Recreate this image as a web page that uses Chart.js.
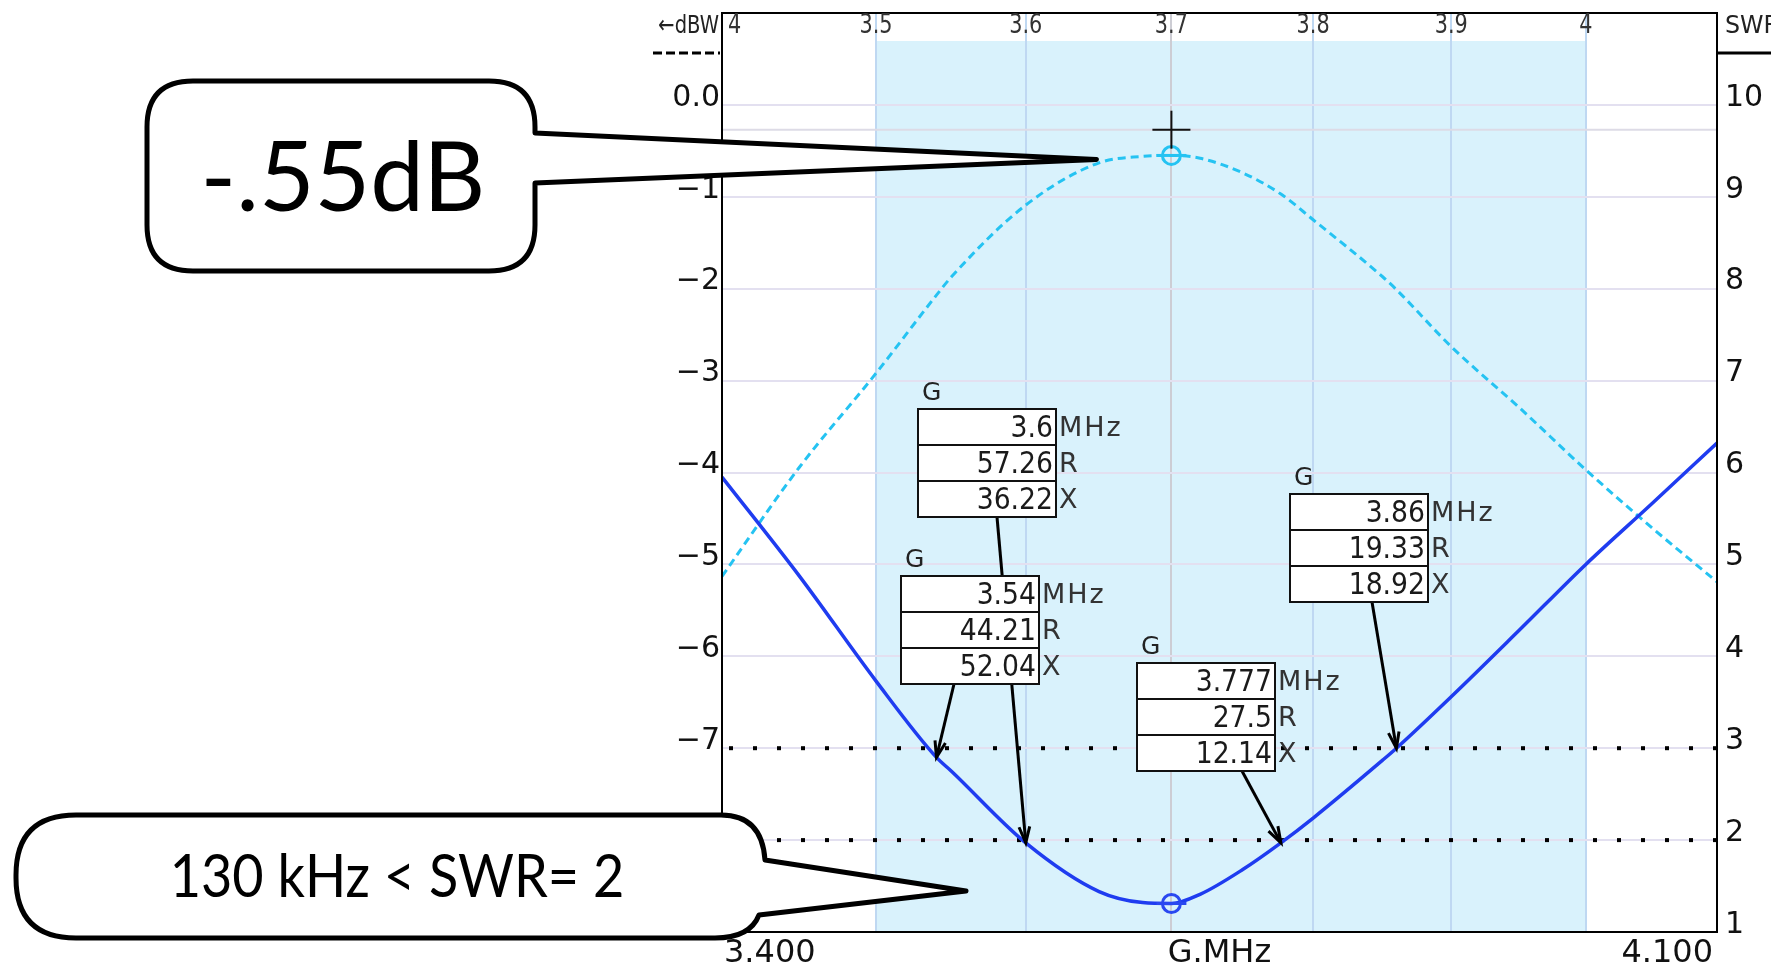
<!DOCTYPE html>
<html>
<head>
<meta charset="utf-8">
<title>SWR / dBW</title>
<script src="https://cdn.jsdelivr.net/npm/chart.js@4.4.1/dist/chart.umd.min.js"></script>
<style>
  html, body { margin: 0; padding: 0; background: #fff; overflow: hidden; }
  canvas { display: block; }
</style>
</head>
<body>
<canvas id="swrChart" width="1771" height="974"></canvas>
<script>
// Частоты, МГц
const freqs = [3.40, 3.45, 3.50, 3.54, 3.55, 3.60, 3.65, 3.68, 3.70, 3.72, 3.75, 3.777, 3.80, 3.85, 3.86, 3.90, 3.95, 4.00, 4.05, 4.10];
// Усиление, dBW (левая шкала)
const dbwValues = [-5.13, -3.94, -2.92, -2.07, -1.87, -1.09, -0.63, -0.56, -0.55, -0.58, -0.74, -0.97, -1.25, -1.87, -2.01, -2.63, -3.29, -3.97, -4.60, -5.19];
// КСВ (правая шкала)
const swrValues = [5.95, 4.87, 3.73, 2.90, 2.75, 1.97, 1.44, 1.32, 1.31, 1.41, 1.68, 1.97, 2.24, 2.87, 3.00, 3.56, 4.28, 5.00, 5.66, 6.32];

// Метки верхней шкалы частот
const topTicks = [3.5, 3.6, 3.7, 3.8, 3.9, 4.0];
// Диапазон, выделенный цветом
const bandStart = 3.5;
const bandEnd = 4.0;
// Уровни КСВ, отмеченные пунктиром
const swrLimits = [2, 3];

// Курсор и маркеры экстремумов
const peakFreq = 3.7;
const peakDbw = -0.55;
const minSwr = 1.31;
const cursorDbw = -0.27;

// Маркеры G: частота, R, X, КСВ в точке
const markerFreqs = [3.6, 3.54, 3.777, 3.86];
const markerR = [57.26, 44.21, 27.5, 19.33];
const markerX = [36.22, 52.04, 12.14, 18.92];
const markerSwr = [1.97, 2.90, 1.97, 3.00];

// Расположение табличек маркеров: левый край, верх, отвод стрелки
const boxLayout = [[918, 409, 79], [901, 576, 53], [1137, 663, 105], [1290, 494, 82]];

const dbwColor = '#25c3f2';
const swrColor = '#1f3cf0';

const dbwData = freqs.map((f, i) => ({ x: f, y: dbwValues[i] }));
const swrData = freqs.map((f, i) => ({ x: f, y: swrValues[i] }));

function line(ctx, x1, y1, x2, y2) {
    ctx.beginPath();
    ctx.moveTo(x1, y1);
    ctx.lineTo(x2, y2);
    ctx.stroke();
}

function arrow(ctx, x1, y1, x2, y2) {
    line(ctx, x1, y1, x2, y2);
    const ang = Math.atan2(y2 - y1, x2 - x1);
    const len = 17, spread = 0.32;
    ctx.beginPath();
    ctx.moveTo(x2 - len * Math.cos(ang - spread), y2 - len * Math.sin(ang - spread));
    ctx.lineTo(x2, y2);
    ctx.lineTo(x2 - len * Math.cos(ang + spread), y2 - len * Math.sin(ang + spread));
    ctx.stroke();
}

// Маркер курсора: кружок с горизонтальной чертой
function cursorMark(ctx, px, py, color) {
    ctx.strokeStyle = color;
    ctx.lineWidth = 3;
    ctx.beginPath();
    ctx.arc(px, py, 9, 0, Math.PI * 2);
    ctx.stroke();
    line(ctx, px - 15, py, px + 15, py);
}

// Сжатый по ширине текст
function narrowText(ctx, text, x, y, k) {
    ctx.save();
    ctx.translate(x, y);
    ctx.scale(k, 1);
    ctx.fillText(text, 0, 0);
    ctx.restore();
}

// Табличка маркера: частота, R, X
function markerBox(ctx, left, top, values) {
    const units = ['MHz', 'R', 'X'];
    const w = 138, h = 36;
    ctx.lineWidth = 2;
    ctx.strokeStyle = '#111';
    ctx.textBaseline = 'middle';
    values.forEach((v, i) => {
        const t = top + i * h;
        ctx.fillStyle = '#fff';
        ctx.fillRect(left, t, w, h);
        ctx.strokeRect(left, t, w, h);
        ctx.fillStyle = '#1a1a1a';
        ctx.textAlign = 'right';
        ctx.font = '31px "DejaVu Sans"';
        narrowText(ctx, v, left + w - 3, t + h / 2 + 2, 0.86);
        ctx.fillStyle = '#333';
        ctx.textAlign = 'left';
        ctx.font = '27px "DejaVu Sans"';
        ctx.letterSpacing = '2px';
        ctx.fillText(units[i], left + w + 3, t + h / 2 + 2);
        ctx.letterSpacing = '0px';
    });
    ctx.fillStyle = '#222';
    ctx.font = '25px "DejaVu Sans"';
    ctx.textAlign = 'left';
    ctx.fillText('G', left + 4, top - 16);
}

// Без отступов под подписи крайних делений: рамка идёт по самому верху
function fixAxis(width) {
    return scale => {
        scale.width = width;
        scale.paddingTop = 0;
        scale.paddingBottom = 0;
    };
}

const overlay = {
    id: 'overlay',
    beforeDraw(chart) {
        const { ctx, chartArea: a, scales: { x } } = chart;
        ctx.save();
        ctx.fillStyle = '#fff';
        ctx.fillRect(0, 0, chart.width, chart.height);
        // Полоса диапазона
        const x1 = x.getPixelForValue(bandStart);
        const x2 = x.getPixelForValue(bandEnd);
        ctx.fillStyle = '#d9f2fc';
        ctx.fillRect(x1, a.top + 28, x2 - x1, a.bottom - a.top - 28);
        ctx.restore();
    },
    beforeDatasetsDraw(chart) {
        const { ctx, chartArea: a, scales: { y, y2 } } = chart;
        ctx.save();
        // Горизонталь курсора
        ctx.strokeStyle = '#dddbe6';
        ctx.lineWidth = 2;
        const cy = y.getPixelForValue(cursorDbw);
        line(ctx, a.left, cy, a.right, cy);
        // Точечные линии КСВ
        ctx.fillStyle = '#000';
        swrLimits.forEach(v => {
            const yy = y2.getPixelForValue(v);
            for (let px = a.right - 2; px > a.left + 8; px -= 24) {
                ctx.fillRect(px - 2, yy - 2, 4, 4);
            }
        });
        ctx.restore();
    },
    afterDatasetsDraw(chart) {
        const { ctx, scales: { x, y, y2 } } = chart;
        ctx.save();
        const px = x.getPixelForValue(peakFreq);
        cursorMark(ctx, px, y.getPixelForValue(peakDbw), dbwColor);
        cursorMark(ctx, px, y2.getPixelForValue(minSwr), '#2a48f0');
        // Перекрестие курсора
        const cy = y.getPixelForValue(cursorDbw);
        ctx.strokeStyle = '#111';
        ctx.lineWidth = 2;
        line(ctx, px - 19, cy, px + 19, cy);
        line(ctx, px, cy - 19, px, cy + 19);
        ctx.restore();
    },
    afterDraw(chart) {
        const { ctx, chartArea: a, scales: { x, y, y2 } } = chart;
        ctx.save();

        // Рамка графика
        ctx.strokeStyle = '#000';
        ctx.lineWidth = 2;
        ctx.strokeRect(a.left, a.top, a.right - a.left, a.bottom - a.top);

        // Верхняя шкала частот
        ctx.font = '26px "DejaVu Sans"';
        ctx.fillStyle = '#333';
        ctx.textBaseline = 'middle';
        ctx.textAlign = 'left';
        narrowText(ctx, '4', a.left + 6, a.top + 13, 0.8);
        ctx.textAlign = 'center';
        topTicks.forEach(v => {
            const label = v === 4 ? '4' : v.toFixed(1);
            narrowText(ctx, label, x.getPixelForValue(v), a.top + 13, 0.8);
        });

        // Подписи нижней шкалы
        ctx.font = '32px "DejaVu Sans"';
        ctx.fillStyle = '#111';
        ctx.textBaseline = 'middle';
        ctx.textAlign = 'left';
        ctx.fillText(x.min.toFixed(3), a.left + 2, a.bottom + 22);
        ctx.textAlign = 'center';
        ctx.fillText('G.MHz', (a.left + a.right) / 2, a.bottom + 22);
        ctx.textAlign = 'right';
        ctx.fillText(x.max.toFixed(3), a.right - 4, a.bottom + 22);

        // Заголовки шкал и образцы линий
        ctx.font = '25px "DejaVu Sans"';
        ctx.fillStyle = '#222';
        ctx.textAlign = 'right';
        narrowText(ctx, '\u2190dBW', a.left - 3, a.top + 13, 0.78);
        ctx.textAlign = 'left';
        narrowText(ctx, 'SWR', a.right + 8, a.top + 13, 0.95);
        ctx.lineWidth = 3;
        ctx.strokeStyle = '#000';
        ctx.setLineDash([9, 4]);
        line(ctx, a.left - 69, a.top + 40, a.left - 2, a.top + 40);
        ctx.setLineDash([]);
        line(ctx, a.right, a.top + 40, chart.width, a.top + 40);

        // Стрелки от табличек к кривой КСВ
        ctx.strokeStyle = '#000';
        ctx.lineWidth = 3;
        markerFreqs.forEach((f, i) => {
            const [left, top, off] = boxLayout[i];
            arrow(ctx, left + off, top + 108, x.getPixelForValue(f), y2.getPixelForValue(markerSwr[i]));
        });
        // Таблички
        markerFreqs.forEach((f, i) => {
            const [left, top] = boxLayout[i];
            markerBox(ctx, left, top, [String(f), String(markerR[i]), String(markerX[i])]);
        });

        // Выноска с максимумом усиления
        const tipX = x.getPixelForValue(peakFreq) - 75;
        const tipY = y.getPixelForValue(peakDbw) + 4;
        ctx.lineWidth = 5;
        ctx.strokeStyle = '#000';
        ctx.fillStyle = '#fff';
        ctx.lineJoin = 'round';
        let L = 147, T = 81, R = 535, B = 271, r = 46;
        ctx.beginPath();
        ctx.moveTo(L + r, T);
        ctx.lineTo(R - r, T);
        ctx.quadraticCurveTo(R, T, R, T + r);
        ctx.lineTo(R, 133);
        ctx.lineTo(tipX, tipY);
        ctx.lineTo(R, 183);
        ctx.lineTo(R, B - r);
        ctx.quadraticCurveTo(R, B, R - r, B);
        ctx.lineTo(L + r, B);
        ctx.quadraticCurveTo(L, B, L, B - r);
        ctx.lineTo(L, T + r);
        ctx.quadraticCurveTo(L, T, L + r, T);
        ctx.closePath();
        ctx.fill();
        ctx.stroke();
        ctx.fillStyle = '#000';
        ctx.font = '96px Lato';
        ctx.textAlign = 'center';
        ctx.textBaseline = 'middle';
        ctx.fillText('-.55dB', (L + R) / 2 + 2, (T + B) / 2 + 4);

        // Выноска с полосой по КСВ
        L = 16; T = 815; B = 938; r = 60;
        ctx.beginPath();
        ctx.moveTo(L + r, T);
        ctx.lineTo(721, T);
        ctx.quadraticCurveTo(762, T, 765, 860);
        ctx.lineTo(966, 891);
        ctx.lineTo(759, 915);
        ctx.quadraticCurveTo(750, B, 715, B);
        ctx.lineTo(L + r, B);
        ctx.quadraticCurveTo(L, B, L, B - r);
        ctx.lineTo(L, T + r);
        ctx.quadraticCurveTo(L, T, L + r, T);
        ctx.closePath();
        ctx.fillStyle = '#fff';
        ctx.fill();
        ctx.stroke();
        ctx.fillStyle = '#000';
        ctx.font = '60px Lato';
        narrowText(ctx, '130 kHz < SWR= 2', 397, 878, 0.9);

        ctx.restore();
    }
};

const ctx = document.getElementById('swrChart').getContext('2d');

const chart = new Chart(ctx, {
    type: 'line',
    data: {
        datasets: [
            {
                label: 'SWR',
                data: swrData,
                yAxisID: 'y2',
                borderColor: swrColor,
                borderWidth: 3.5,
                pointRadius: 0,
                cubicInterpolationMode: 'monotone',
                order: 1
            },
            {
                label: 'dBW',
                data: dbwData,
                yAxisID: 'y',
                borderColor: dbwColor,
                borderWidth: 3,
                borderDash: [8, 5],
                pointRadius: 0,
                cubicInterpolationMode: 'monotone',
                order: 2
            }
        ]
    },
    options: {
        responsive: false,
        animation: false,
        devicePixelRatio: 1,
        layout: { padding: { top: 13, left: 0, right: 0, bottom: 0 } },
        plugins: {
            legend: { display: false },
            tooltip: { enabled: false }
        },
        scales: {
            x: {
                type: 'logarithmic',
                min: 3.4,
                max: 4.1,
                afterBuildTicks: scale => { scale.ticks = topTicks.map(v => ({ value: v })); },
                afterFit: scale => {
                    scale.height = 42;
                    scale.paddingLeft = 0;
                    scale.paddingRight = 0;
                },
                ticks: { display: false },
                border: { display: false },
                grid: {
                    drawTicks: false,
                    lineWidth: 2,
                    color: c => (c.tick && c.tick.value === peakFreq ? '#cdcdd4' : '#bfd8f2')
                }
            },
            y: {
                position: 'left',
                min: -9,
                max: 1,
                afterFit: fixAxis(722),
                ticks: {
                    stepSize: 1,
                    padding: 2,
                    labelOffset: -7,
                    color: '#111',
                    font: { family: 'DejaVu Sans', size: 30 },
                    callback: v => (v > 0 ? '' : v === 0 ? '0.0' : '\u2212' + Math.abs(v))
                },
                border: { display: false },
                grid: { drawTicks: false, lineWidth: 2, color: '#e3e0f0' }
            },
            y2: {
                position: 'right',
                min: 1,
                max: 11,
                afterFit: fixAxis(54),
                ticks: {
                    stepSize: 1,
                    padding: 8,
                    labelOffset: -7,
                    color: '#111',
                    font: { family: 'DejaVu Sans', size: 30 },
                    callback: v => (v > 10 ? '' : String(v))
                },
                border: { display: false },
                grid: { display: false, drawTicks: false }
            }
        }
    },
    plugins: [overlay]
});
</script>
</body>
</html>
